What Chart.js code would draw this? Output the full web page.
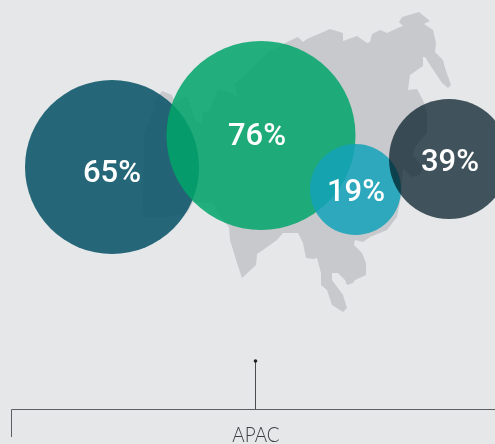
<!DOCTYPE html>
<html>
<head>
<meta charset="utf-8">
<style>
    html, body { margin: 0; padding: 0; background: #e6e7e9; }
    canvas { display: block; }
</style>
<script src="https://cdn.jsdelivr.net/npm/chart.js@4"></script>
</head>
<body>
<canvas id="apac-chart" width="495" height="444"></canvas>
<script>
const REGION_LABEL = "APAC";

// bubbles, in the order they stack
const bubbleValues = [65, 76, 19, 39];
const bubbleX = [112, 261, 355.5, 449];
const bubbleY = [167, 135.5, 189.5, 159];
const bubbleRadius = [87, 94.5, 45.5, 60];
const bubbleColors = [
    "rgba(16, 89, 108, 0.9)",
    "rgba(0, 164, 106, 0.85)",
    "rgba(19, 162, 185, 0.85)",
    "rgba(0, 25, 36, 0.72)",
];
const labelX = [112, 257, 356, 450];
const labelY = [174, 137.5, 193, 163];

// map silhouette
const mapX = [143, 144, 153, 155, 162, 172, 175, 185, 188, 195, 202, 202, 210, 218, 232, 237, 235, 245, 257, 267, 287, 298, 303, 307, 330, 343, 343, 357, 367, 370, 372, 380, 387, 400, 403, 399, 402, 419, 430, 424, 433, 436, 435, 443, 445, 451, 448, 442, 432, 425, 423, 423, 410, 408, 417, 423, 427, 427, 415, 413, 423, 420, 412, 403, 401, 397, 387, 370, 363, 355, 354, 362, 366, 366, 355, 353, 347, 345, 338, 332, 332, 343, 347, 343, 332, 327, 321, 321, 317, 313, 306, 303, 298, 283, 277, 263, 257, 256, 242, 237, 230, 229, 220, 213, 193, 187, 163, 145, 143];
const mapY = [210, 133, 113, 100, 91, 95, 103, 97, 97, 120, 123, 113, 110, 90, 93, 98, 83, 75, 63, 53, 42, 37, 42, 39, 29, 33, 41, 36, 43, 42, 34, 30, 33, 27, 26, 22, 17, 12, 21, 24, 30, 43, 52, 60, 68, 85, 88, 83, 68, 57, 57, 66, 75, 90, 89, 100, 113, 133, 147, 155, 167, 175, 177, 168, 197, 217, 230, 237, 242, 240, 245, 253, 263, 275, 280, 283, 285, 280, 273, 273, 280, 295, 308, 312, 305, 290, 285, 273, 258, 259, 258, 243, 233, 233, 240, 250, 254, 265, 278, 263, 240, 227, 217, 203, 202, 213, 218, 217, 210];

// bracket under the map
const stemX = [255.5, 255.5];
const stemY = [361, 409];
const bracketX = [11.5, 11.5, 495];
const bracketY = [437, 409.5, 409.5];

function toPoints(xs, ys) {
    return xs.map((x, i) => ({ x, y: ys[i] }));
}

// bubbles run off the canvas here, so the layout must not shrink the plot for them
const noOverflow = {
    id: "noOverflow",
    beforeElementsUpdate(chart) {
        chart.data.datasets.forEach((dataset, i) => {
            chart.getDatasetMeta(i).controller.getMaxOverflow = () => 0;
        });
    },
};

const bubbleLabels = {
    id: "bubbleLabels",
    afterDatasetsDraw(chart) {
        const { ctx, scales } = chart;
        ctx.save();
        ctx.textAlign = "center";
        ctx.textBaseline = "middle";
        ctx.fillStyle = "#ffffff";
        ctx.font = "500 31px Roboto, Lato, sans-serif";
        bubbleValues.forEach((value, i) => {
            ctx.fillText(`${value}%`, scales.x.getPixelForValue(labelX[i]), scales.y.getPixelForValue(labelY[i]));
        });
        // the region label is set narrower than any installed face
        ctx.fillStyle = "#3a3e42";
        ctx.font = "300 21px Lato, sans-serif";
        ctx.textBaseline = "alphabetic";
        ctx.translate(scales.x.getPixelForValue(256), scales.y.getPixelForValue(441.5));
        ctx.scale(0.9, 1);
        ctx.fillText(REGION_LABEL, 0, 0);
        ctx.restore();
    },
};

new Chart(document.getElementById("apac-chart"), {
    data: {
        datasets: [
            {
                type: "bubble",
                order: 1,
                data: bubbleX.map((x, i) => ({ x, y: bubbleY[i], r: bubbleRadius[i] })),
                backgroundColor: bubbleColors,
                borderWidth: 0,
            },
            {
                type: "line",
                order: 2,
                data: toPoints(stemX, stemY),
                borderColor: "#4a4d50",
                borderWidth: 1,
                pointRadius: [1.8, 0],
                pointBackgroundColor: "#222222",
                pointBorderWidth: 0,
                tension: 0,
            },
            {
                type: "line",
                order: 3,
                data: toPoints(bracketX, bracketY),
                borderColor: "#5c5f62",
                borderWidth: 1,
                pointRadius: 0,
                tension: 0,
            },
            {
                type: "line",
                order: 4,
                data: toPoints(mapX, mapY),
                borderWidth: 0,
                backgroundColor: "#c8c9cd",
                pointRadius: 0,
                tension: 0,
                fill: "shape",
            },
        ],
    },
    options: {
        responsive: false,
        animation: false,
        events: [],
        layout: { padding: 0 },
        plugins: {
            legend: { display: false },
            tooltip: { enabled: false },
        },
        scales: {
            x: { type: "linear", min: 0, max: 495, display: false },
            y: { type: "linear", min: 0, max: 444, reverse: true, display: false },
        },
    },
    plugins: [noOverflow, bubbleLabels],
});
</script>
</body>
</html>
